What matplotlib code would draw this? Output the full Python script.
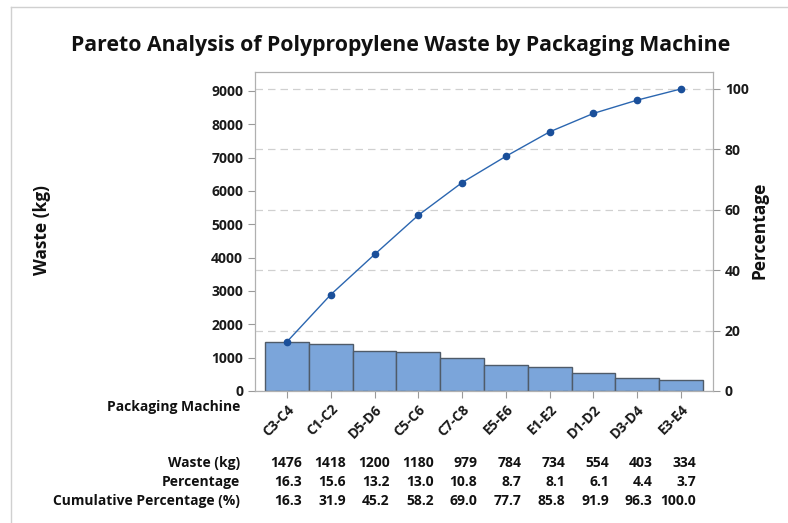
import numpy as np
import matplotlib.pyplot as plt
import matplotlib.transforms as mtransforms
from matplotlib.lines import Line2D

machines = ['C3-C4', 'C1-C2', 'D5-D6', 'C5-C6', 'C7-C8', 'E5-E6', 'E1-E2', 'D1-D2', 'D3-D4', 'E3-E4']
waste = [1476, 1418, 1200, 1180, 979, 784, 734, 554, 403, 334]
percent = [16.3, 15.6, 13.2, 13.0, 10.8, 8.7, 8.1, 6.1, 4.4, 3.7]
cum_percent = [16.3, 31.9, 45.2, 58.2, 69.0, 77.7, 85.8, 91.9, 96.3, 100.0]

plt.rcParams['font.family'] = ['Open Sans', 'DejaVu Sans']

W, H = 788, 523
fig = plt.figure(figsize=(W/100, H/100), dpi=100)

# screenshot frame
fig.add_artist(Line2D([11/W, 11/W], [0, 1-7/H], transform=fig.transFigure, color='#d0d0d0', lw=1))
fig.add_artist(Line2D([11/W, 1], [1-7/H, 1-7/H], transform=fig.transFigure, color='#d0d0d0', lw=1))

ax = fig.add_axes([255/W, 1-391/H, (713-255)/W, (391-72)/H])
x = np.arange(len(machines))
total = sum(waste)

ax.bar(x, waste, width=1.0, color='#7ba5da', edgecolor='#4f5b69', linewidth=1.0, zorder=2)
ytop = 9570
ax.set_ylim(0, ytop)
ax.set_xlim(-0.73, len(machines) - 1 + 0.73)
ax.set_yticks(range(0, 9001, 1000))
ax.set_xticks(x)
ax.set_xticklabels(machines, rotation=45, ha='right', rotation_mode='anchor')

ax2 = ax.twinx()
ax2.set_ylim(0, ytop / total * 100)
ax2.set_yticks(range(0, 101, 20))
ax2.plot(x, cum_percent, color='#2b66b0', lw=1, marker='o', markersize=4.5,
         markerfacecolor='#1a4f9a', markeredgecolor='#1a4f9a', zorder=3)
ax2.grid(axis='y', linestyle=(0, (6, 4)), color='#d0d0d0', lw=0.9)
ax2.set_axisbelow(True)

for a in (ax, ax2):
    for s in a.spines.values():
        s.set_color('#b0b0b0')
    a.tick_params(colors='#9a9a9a', labelcolor='#1a1a1a', length=5, labelsize=10)
    for lab in a.get_yticklabels() + a.get_xticklabels():
        lab.set_fontweight('bold')
ax.tick_params(axis='x', pad=3)

fig.text(401/W, 1-45/H, 'Pareto Analysis of Polypropylene Waste by Packaging Machine',
         ha='center', va='center', fontsize=15.3, fontweight='bold', color='#111111')
fig.text(42/W, 1-230/H, 'Waste (kg)', rotation=90, ha='center', va='center',
         fontsize=12.5, fontweight='bold', color='#111111')
fig.text(760/W, 1-230/H, 'Percentage', rotation=90, ha='center', va='center',
         fontsize=12.5, fontweight='bold', color='#111111')
fig.text(240/W, 1-407/H, 'Packaging Machine', ha='right', va='center',
         fontsize=10, fontweight='bold', color='#111111')

trans = mtransforms.blended_transform_factory(ax.transData, fig.transFigure)
rows = [('Waste (kg)', [str(v) for v in waste], 463),
        ('Percentage', ['%.1f' % v for v in percent], 482),
        ('Cumulative Percentage (%)', ['%.1f' % v for v in cum_percent], 501)]
for label, vals, yp in rows:
    fig.text(240/W, 1-yp/H, label, ha='right', va='center', fontsize=10,
             fontweight='bold', color='#111111')
    for i, v in enumerate(vals):
        ax.text(i + 0.35, 1-yp/H, v, transform=trans, ha='right', va='center',
                fontsize=10, fontweight='bold', color='#111111')

fig.savefig('out.png', dpi=100)
